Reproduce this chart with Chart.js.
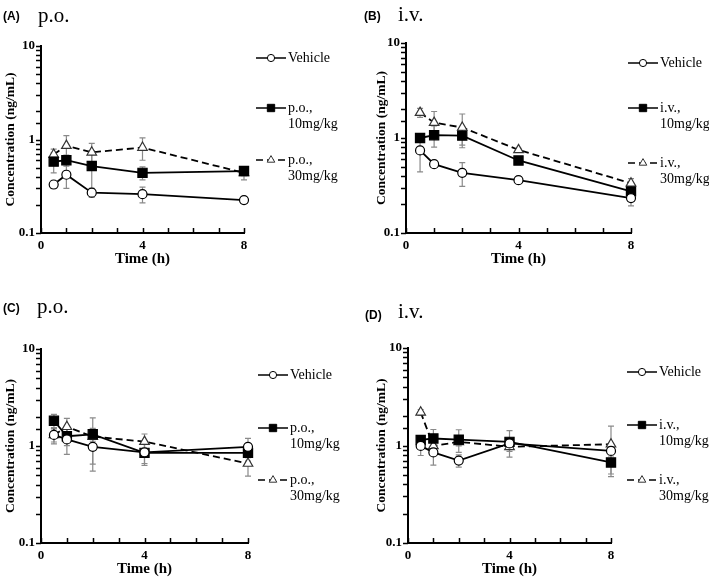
<!DOCTYPE html>
<html>
<head>
<meta charset="utf-8">
<script src="https://cdn.jsdelivr.net/npm/chart.js@4.4.0/dist/chart.umd.min.js"></script>
<style>
  body { margin: 0; background: #fff; width: 709px; height: 578px; position: relative; overflow: hidden; }
  canvas { position: absolute; }
  .tag { position: absolute; font: bold 12px "Liberation Sans", Arial, sans-serif; color: #000; }
  .route { position: absolute; font: 21px "Liberation Serif", serif; color: #000; }
</style>
</head>
<body>
<canvas id="chartA" width="354" height="290" style="left:0;top:0"></canvas>
<canvas id="chartB" width="354" height="290" style="left:355px;top:0"></canvas>
<canvas id="chartC" width="354" height="290" style="left:0;top:290px"></canvas>
<canvas id="chartD" width="354" height="290" style="left:355px;top:290px"></canvas>

<div class="tag" style="left:3px;top:9px">(A)</div><div class="route" style="left:38px;top:3px">p.o.</div>
<div class="tag" style="left:364px;top:9px">(B)</div><div class="route" style="left:398px;top:2px">i.v.</div>
<div class="tag" style="left:3px;top:301px">(C)</div><div class="route" style="left:37px;top:294px">p.o.</div>
<div class="tag" style="left:365px;top:308px">(D)</div><div class="route" style="left:398px;top:299px">i.v.</div>

<script>
// sampling times (h)
const times = [0.5, 1, 2, 4, 8];

// (A) p.o.
const vehA = [0.33, 0.42, 0.27, 0.26, 0.225];
const vehAErr = [0.03, 0.12, 0.03, 0.05, 0.01];
const po10A = [0.58, 0.60, 0.52, 0.44, 0.46];
const po10AErr = [0.14, 0.08, 0.24, 0.07, 0.05];
const po30A = [0.69, 0.86, 0.73, 0.82, 0.44];
const po30AErr = [0.10, 0.24, 0.18, 0.22, 0.07];

// (B) i.v.
const vehB = [0.74, 0.53, 0.43, 0.36, 0.233];
const vehBErr = [0.30, 0.04, 0.12, 0.03, 0.04];
const iv10B = [1.0, 1.07, 1.06, 0.58, 0.274];
const iv10BErr = [0.08, 0.27, 0.22, 0.03, 0.02];
const iv30B = [1.85, 1.45, 1.29, 0.75, 0.334];
const iv30BErr = [0.20, 0.45, 0.50, 0.03, 0.04];

// (C) p.o.
const vehC = [1.30, 1.17, 0.98, 0.86, 0.98];
const vehCErr = [0.25, 0.35, 0.33, 0.20, 0.22];
const po10C = [1.82, 1.26, 1.32, 0.85, 0.85];
const po10CErr = [0.30, 0.25, 0.20, 0.22, 0.15];
const po30C = [1.30, 1.58, 1.25, 1.11, 0.66];
const po30CErr = [0.20, 0.35, 0.70, 0.22, 0.17];

// (D) i.v.
const vehD = [0.99, 0.85, 0.70, 1.05, 0.88];
const vehDErr = [0.20, 0.22, 0.10, 0.10, 0.10];
const iv10D = [1.14, 1.18, 1.15, 1.09, 0.67];
const iv10DErr = [0.10, 0.28, 0.30, 0.33, 0.16];
const iv30D = [2.19, 0.99, 1.09, 0.97, 1.03];
const iv30DErr = [0.15, 0.10, 0.10, 0.10, 0.55];

const xTicks = [0, 4, 8];
const yTicks = [0.1, 1, 10];

const serif = '"Liberation Serif", "Times New Roman", serif';

const errorBars = {
  id: 'errorBars',
  beforeDatasetsDraw(chart) {
    const { ctx, scales: { x, y } } = chart;
    ctx.save();
    ctx.strokeStyle = '#8a8a8a';
    ctx.lineWidth = 1.2;
    chart.data.datasets.forEach(ds => {
      ds.data.forEach((p, i) => {
        const e = ds.errors[i];
        const px = x.getPixelForValue(p.x);
        const t = y.getPixelForValue(p.y + e);
        const b = y.getPixelForValue(Math.max(p.y - e, 0.1));
        ctx.beginPath();
        ctx.moveTo(px, t); ctx.lineTo(px, b);
        ctx.moveTo(px - 3, t); ctx.lineTo(px + 3, t);
        ctx.moveTo(px - 3, b); ctx.lineTo(px + 3, b);
        ctx.stroke();
      });
    });
    ctx.restore();
  }
};

// y ticks outside the axis, x ticks pointing up into the plot
const axisTicks = {
  id: 'axisTicks',
  afterDraw(chart) {
    const { ctx, chartArea: a, scales: { x, y } } = chart;
    ctx.save();
    ctx.strokeStyle = '#000';
    ctx.lineWidth = 1.5;
    ctx.beginPath();
    y.ticks.forEach(t => {
      const py = Math.round(y.getPixelForValue(t.value)) + 0.5;
      ctx.moveTo(a.left - 5, py); ctx.lineTo(a.left, py);
    });
    x.ticks.forEach(t => {
      const px = Math.round(x.getPixelForValue(t.value)) + 0.5;
      ctx.moveTo(px, a.bottom); ctx.lineTo(px, a.bottom - 5);
    });
    ctx.stroke();
    ctx.restore();
  }
};

const sideLegend = {
  id: 'sideLegend',
  afterDraw(chart, args, opts) {
    const ctx = chart.ctx;
    chart.data.datasets.forEach((ds, i) => {
      const y = opts.rows[i];
      ctx.save();
      ctx.strokeStyle = '#000';
      ctx.lineWidth = 1.5;
      ctx.setLineDash(ds.borderDash || []);
      ctx.beginPath();
      ctx.moveTo(opts.x, y); ctx.lineTo(opts.x + 30, y);
      ctx.stroke();
      ctx.setLineDash([]);
      ctx.fillStyle = ds.pointBackgroundColor;
      ctx.strokeStyle = ds.pointBorderColor;
      ctx.lineWidth = 1;
      Chart.helpers.drawPoint(ctx, { pointStyle: ds.pointStyle, radius: ds.pointRadius * 0.8, rotation: 0, borderWidth: 1 }, opts.x + 15, y);
      ctx.fillStyle = '#000';
      ctx.font = '14px ' + serif;
      ctx.textBaseline = 'middle';
      ds.label.split('\n').forEach((line, k) => ctx.fillText(line, opts.x + 32, y + k * 16));
      ctx.restore();
    });
  }
};

function series(label, vals, errs, style) {
  const base = {
    label: label,
    data: times.map((t, i) => ({ x: t, y: vals[i] })),
    errors: errs,
    borderColor: '#000',
    borderWidth: 1.8,
    tension: 0,
    clip: false,
    pointBorderWidth: 1.2
  };
  if (style === 'circle') Object.assign(base, { pointStyle: 'circle', pointRadius: 4.5, pointBackgroundColor: '#fff', pointBorderColor: '#000' });
  if (style === 'rect') Object.assign(base, { pointStyle: 'rect', pointRadius: 6.5, pointBackgroundColor: '#000', pointBorderColor: '#000' });
  if (style === 'triangle') Object.assign(base, { pointStyle: 'triangle', pointRadius: 5.5, pointBackgroundColor: '#fff', pointBorderColor: '#333', borderDash: [7, 4] });
  return base;
}

function makePanel(id, box, legend, datasets) {
  new Chart(document.getElementById(id), {
    type: 'line',
    data: { datasets: datasets },
    plugins: [errorBars, axisTicks, sideLegend],
    options: {
      responsive: false,
      animation: false,
      layout: { padding: { left: 0, top: box.top, right: 354 - box.right, bottom: 290 - box.bottom - 35 } },
      plugins: {
        legend: { display: false },
        tooltip: { enabled: false },
        sideLegend: legend
      },
      scales: {
        x: {
          type: 'linear', min: 0, max: 8,
          afterFit: s => { s.height = 35; },
          border: { display: true, color: '#000', width: 2 },
          grid: { display: false, drawTicks: false },
          ticks: {
            stepSize: 1, autoSkip: false, maxRotation: 0, padding: 5, color: '#000',
            font: { family: serif, size: 13, weight: 'bold' },
            callback: v => xTicks.includes(v) ? String(v) : ''
          },
          title: { display: true, text: 'Time (h)', color: '#000', padding: 0, font: { family: serif, size: 15, weight: 'bold' } }
        },
        y: {
          type: 'logarithmic', min: 0.1, max: 10,
          afterFit: s => { s.width = box.left; },
          border: { display: true, color: '#000', width: 2 },
          grid: { display: false, drawTicks: false },
          ticks: {
            autoSkip: false, padding: 6, color: '#000',
            font: { family: serif, size: 13, weight: 'bold' },
            callback: v => yTicks.some(t => Math.abs(t - v) < 1e-9) ? String(v) : ''
          },
          title: { display: true, text: 'Concentration (ng/mL)', color: '#000', padding: { top: box.titlePad, bottom: 0 }, font: { family: serif, size: 13.5, weight: 'bold' } }
        }
      }
    }
  });
}

makePanel('chartA', { left: 41, right: 244, top: 46, bottom: 233, titlePad: 2 }, { x: 256, rows: [58, 108, 160] }, [
  series('Vehicle', vehA, vehAErr, 'circle'),
  series('p.o.,\n10mg/kg', po10A, po10AErr, 'rect'),
  series('p.o.,\n30mg/kg', po30A, po30AErr, 'triangle')
]);

makePanel('chartB', { left: 51, right: 276, top: 43, bottom: 233, titlePad: 18 }, { x: 273, rows: [63, 108, 163] }, [
  series('Vehicle', vehB, vehBErr, 'circle'),
  series('i.v.,\n10mg/kg', iv10B, iv10BErr, 'rect'),
  series('i.v.,\n30mg/kg', iv30B, iv30BErr, 'triangle')
]);

makePanel('chartC', { left: 41, right: 248, top: 59, bottom: 253, titlePad: 2 }, { x: 258, rows: [85, 138, 190] }, [
  series('Vehicle', vehC, vehCErr, 'circle'),
  series('p.o.,\n10mg/kg', po10C, po10CErr, 'rect'),
  series('p.o.,\n30mg/kg', po30C, po30CErr, 'triangle')
]);

makePanel('chartD', { left: 53, right: 256, top: 58, bottom: 253, titlePad: 18 }, { x: 272, rows: [82, 135, 190] }, [
  series('Vehicle', vehD, vehDErr, 'circle'),
  series('i.v.,\n10mg/kg', iv10D, iv10DErr, 'rect'),
  series('i.v.,\n30mg/kg', iv30D, iv30DErr, 'triangle')
]);
</script>
</body>
</html>
